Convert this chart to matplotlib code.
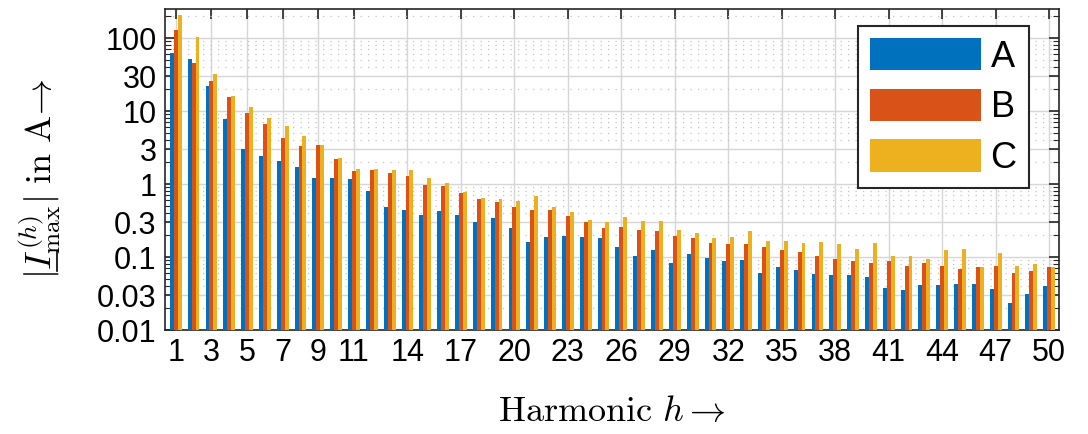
import numpy as np
import matplotlib.pyplot as plt
from matplotlib.lines import Line2D
from matplotlib.ticker import FixedLocator, LogLocator, NullFormatter

plt.rcParams['font.family'] = ['Liberation Sans', 'DejaVu Sans']
plt.rcParams['mathtext.fontset'] = 'cm'

harmonics = np.arange(1, 51)

# peak harmonic currents per variant, in A
current_a = [62.7, 52, 22.3, 7.8, 3.0, 2.39, 2.04, 1.74, 1.23, 1.23,
             1.18, 0.81, 0.48, 0.44, 0.38, 0.43, 0.38, 0.30, 0.34, 0.254,
             0.16, 0.19, 0.197, 0.19, 0.18, 0.139, 0.105, 0.123, 0.082, 0.11,
             0.098, 0.087, 0.092, 0.060, 0.074, 0.067, 0.059, 0.056, 0.057, 0.054,
             0.038, 0.0355, 0.041, 0.041, 0.0425, 0.0425, 0.036, 0.0238, 0.031, 0.040]
current_b = [128, 45.7, 26, 15.6, 9.4, 6.65, 4.28, 3.28, 3.39, 2.2,
             1.49, 1.54, 1.44, 1.30, 0.98, 0.93, 0.75, 0.63, 0.57, 0.48,
             0.44, 0.44, 0.367, 0.30, 0.254, 0.257, 0.236, 0.229, 0.195, 0.18,
             0.155, 0.15, 0.15, 0.138, 0.123, 0.117, 0.105, 0.094, 0.087, 0.082,
             0.087, 0.076, 0.082, 0.076, 0.068, 0.072, 0.076, 0.060, 0.065, 0.072]
current_c = [210, 104, 32.6, 15.9, 11.4, 8.0, 6.3, 4.5, 3.46, 2.27,
             1.61, 1.61, 1.54, 1.54, 1.21, 1.03, 0.77, 0.64, 0.62, 0.59,
             0.68, 0.49, 0.42, 0.324, 0.30, 0.35, 0.31, 0.31, 0.236, 0.213,
             0.18, 0.19, 0.229, 0.168, 0.168, 0.155, 0.16, 0.15, 0.128, 0.155,
             0.104, 0.102, 0.094, 0.123, 0.128, 0.072, 0.113, 0.076, 0.080, 0.074]
series_names = ['A', 'B', 'C']

colors = ['#0072BD', '#D95319', '#EDB120']
width = 0.22

fig = plt.figure(figsize=(10.88, 4.34), dpi=100)
ax = fig.add_axes([0.1517, 0.2396, 0.8216, 0.7394])

for i, (vals, name) in enumerate(zip([current_a, current_b, current_c], series_names)):
    ax.bar(harmonics + (i - 1) * width, vals, width=width, color=colors[i],
           label=name, zorder=3)

ax.set_yscale('log')
ax.set_ylim(0.01, 250)
ax.set_xlim(0.4, 50.55)

yticks = [0.01, 0.03, 0.1, 0.3, 1, 3, 10, 30, 100]
ax.yaxis.set_major_locator(FixedLocator(yticks))
ax.set_yticklabels(['0.01', '0.03', '0.1', '0.3', '1', '3', '10', '30', '100'])
ax.yaxis.set_minor_locator(LogLocator(base=10, subs=[2, 4, 5, 6, 7, 8, 9]))
ax.yaxis.set_minor_formatter(NullFormatter())

xticks = [1, 3, 5, 7, 9, 11] + list(range(14, 51, 3))
ax.set_xticks(xticks)

ax.tick_params(axis='both', which='major', direction='in', length=7, width=1.2,
               top=True, right=True, labelsize=22, color='#262626', pad=6)
ax.tick_params(axis='y', which='minor', direction='in', length=4, width=0.8,
               right=True, color='#262626')
ax.tick_params(axis='x', which='minor', bottom=False, top=False)

ax.grid(True, which='major', color='#d6d6d6', linewidth=1.0, zorder=0)
ax.grid(True, which='minor', axis='y', color='#c4c4c4', linestyle=(0, (1, 5)),
        linewidth=0.9, zorder=0)
ax.set_axisbelow(True)

for s in ax.spines.values():
    s.set_color('#262626')
    s.set_linewidth(1.2)

label_size = 26
ylab = r'$|I^{(h)}_{\max}|\ \mathrm{in\ A}\!\rightarrow$'
ax.set_ylabel(ylab, fontsize=label_size)
ax.yaxis.set_label_coords(-0.114, 0.47)
ax.set_xlabel(r'$\mathrm{Harmonic}\ h \rightarrow$', fontsize=label_size)
ax.xaxis.set_label_coords(0.5, -0.2)

leg = ax.legend(loc='upper right', bbox_to_anchor=(0.966, 0.947), borderaxespad=0,
                fontsize=26, handlelength=3.1, handleheight=1.0, labelspacing=0.39,
                handletextpad=0.25, borderpad=0.33, fancybox=False, framealpha=1,
                edgecolor='#262626')
leg.get_frame().set_linewidth(1.5)

# mathtext has no \underline, so draw the phasor bar under I by hand
fig.canvas.draw()
renderer = fig.canvas.get_renderer()
bb = ax.yaxis.label.get_window_extent(renderer)
probe = fig.text(0, 0, r'$|$', fontsize=label_size)
w_bar = probe.get_window_extent(renderer).width
probe.set_text(r'$|I$')
w_bar_i = probe.get_window_extent(renderer).width
probe.remove()
px = label_size * fig.dpi / 72
ux = bb.x1 - 0.16 * px
uy0 = bb.y0 + w_bar + 0.02 * px
uy1 = bb.y0 + w_bar_i - 0.05 * px
W, H = fig.bbox.width, fig.bbox.height
fig.add_artist(Line2D([ux / W, ux / W], [uy0 / H, uy1 / H], color='black',
                      linewidth=1.2, transform=fig.transFigure))

fig.savefig('out.png', dpi=100)
